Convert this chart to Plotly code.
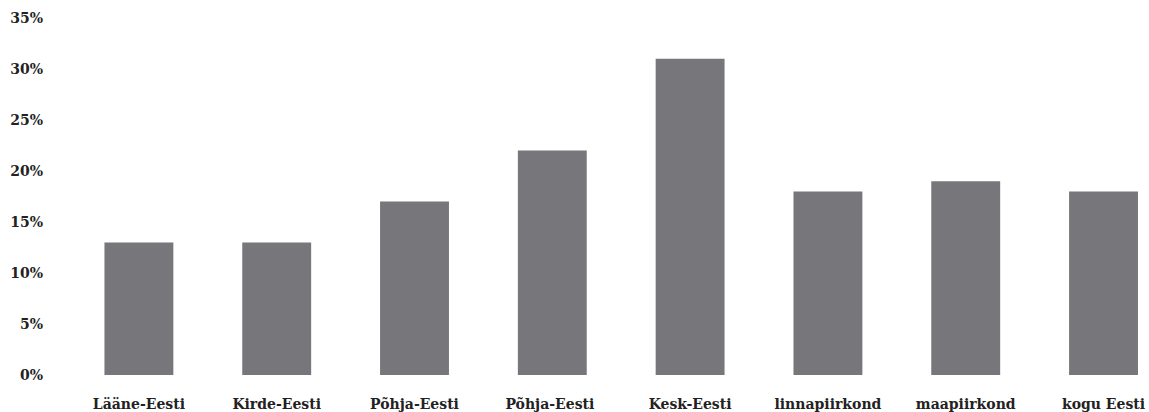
import plotly.graph_objects as go

categories = ["Lääne-Eesti", "Kirde-Eesti", "Põhja-Eesti", "Põhja-Eesti ", "Kesk-Eesti",
              "linnapiirkond", "maapiirkond", "kogu Eesti"]
values = [13, 13, 17, 22, 31, 18, 19, 18]
y_ticks = [0, 5, 10, 15, 20, 25, 30, 35]
y_tick_labels = [f"{v}%" for v in y_ticks]

fig = go.Figure(go.Bar(
    x=categories, y=values,
    marker=dict(color="#77777b", line=dict(width=0)),
))

font = dict(family="DejaVu Serif", size=14, color="#222222", weight="bold")

fig.update_layout(
    width=1149, height=412,
    margin=dict(l=70, r=0, t=18, b=37, autoexpand=False),
    plot_bgcolor="white", paper_bgcolor="white",
    bargap=0.5,
    showlegend=False,
    font=font,
)
fig.update_xaxes(
    type="category", range=[-0.5, 7.33], automargin=False,
    showgrid=False, showline=False, zeroline=False,
    tickfont=font, ticklabelstandoff=19, ticks="",
)
fig.update_yaxes(
    range=[0, 35], tickvals=y_ticks, ticktext=y_tick_labels, automargin=False,
    showgrid=False, showline=False, zeroline=False,
    tickfont=font, ticklabelstandoff=26, ticks="",
)
fig.write_html(
    "out.html",
    config={"displayModeBar": False},
    post_script="document.body.style.margin='0';document.body.style.overflow='hidden';",
)
